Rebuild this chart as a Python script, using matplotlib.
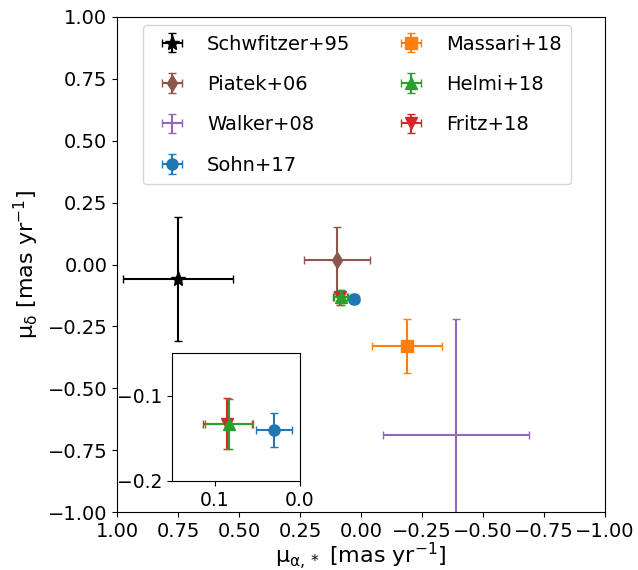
import matplotlib
matplotlib.use("Agg")
import matplotlib.pyplot as plt

labels = ["Schwfitzer+95", "Piatek+06", "Walker+08", "Sohn+17", "Massari+18", "Helmi+18", "Fritz+18"]
pmra = [0.75, 0.10, -0.39, 0.030, -0.19, 0.083, 0.085]
pmra_err = [0.225, 0.135, 0.30, 0.021, 0.143, 0.028, 0.029]
pmdec = [-0.06, 0.02, -0.69, -0.140, -0.33, -0.133, -0.133]
pmdec_err = [0.25, 0.13, 0.47, 0.020, 0.11, 0.029, 0.030]
colors = ["black", "C5", "C4", "C0", "C1", "C2", "C3"]
markers = ["*", "d", "", "o", "s", "^", "v"]
msizes = [11, 8, 0, 8, 9, 8, 8]
zorders = [3, 3, 3, 3, 3, 5, 4]

FS = 14
LFS = 16

fig = plt.figure(figsize=(6.38, 5.70), dpi=100)
ax = fig.add_axes([117/638, 1-512/570, 488/638, 495/570])

for i in range(len(labels)):
    ax.errorbar(pmra[i], pmdec[i], xerr=pmra_err[i], yerr=pmdec_err[i],
                color=colors[i], marker=markers[i] if markers[i] else None,
                ms=msizes[i], capsize=3, elinewidth=1.5, lw=0,
                label=labels[i], zorder=zorders[i])

ax.set_xlim(1.0, -1.0)
ax.set_ylim(-1.0, 1.0)
ticks = [1.0, 0.75, 0.5, 0.25, 0.0, -0.25, -0.5, -0.75, -1.0]
ax.set_xticks(ticks)
ax.set_yticks(ticks)
ax.tick_params(labelsize=FS)
ax.set_xlabel(r'$\mathrm{\mu_{\alpha,*}}$ [mas yr$^{-1}$]', fontsize=LFS, labelpad=0)
ax.set_ylabel(r'$\mathrm{\mu_{\delta}}$ [mas yr$^{-1}$]', fontsize=LFS, labelpad=5)
ax.legend(ncol=2, fontsize=14, loc='upper center', bbox_to_anchor=(0.492, 1.0),
          borderaxespad=0.4, borderpad=0.5, columnspacing=2.1, handletextpad=0.8,
          labelspacing=1.1)

ins = fig.add_axes([172/638, 1-481/570, 128/638, 128/570])
inset_idx = [3, 6, 5]
for i in inset_idx:
    ins.errorbar(pmra[i], pmdec[i], xerr=pmra_err[i], yerr=pmdec_err[i],
                 color=colors[i], marker=markers[i], ms=msizes[i],
                 capsize=3, elinewidth=1.5, lw=0)
ins.set_xlim(0.15, 0.0)
ins.set_ylim(-0.2, -0.05)
ins.set_xticks([0.1, 0.0])
ins.set_yticks([-0.1, -0.2])
ins.tick_params(labelsize=13.5)

fig.savefig("out.png", dpi=100)
